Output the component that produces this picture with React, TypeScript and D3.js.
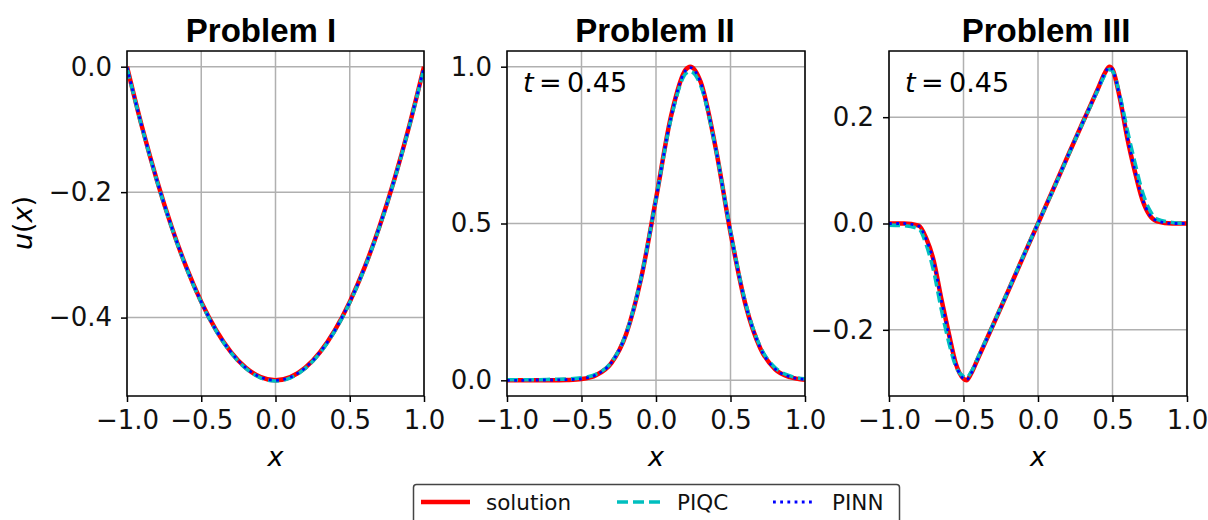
import React, { useEffect, useRef } from 'react'
import * as d3 from 'd3'

// canvas
const width = 1208,
      height = 520,
      plotTop = 51,
      plotBottom = 396
const tickFont = '"DejaVu Sans", sans-serif'
const titleFont = '"Liberation Sans", Arial, sans-serif'

// Problem I
const xI = [-1, -0.9, -0.8, -0.7, -0.6, -0.5, -0.4, -0.3, -0.2, -0.1, 0, 0.1, 0.2, 0.3, 0.4, 0.5, 0.6, 0.7, 0.8, 0.9, 1]
const solutionI = [0, -0.095, -0.18, -0.255, -0.32, -0.375, -0.42, -0.455, -0.48, -0.495, -0.5, -0.495, -0.48, -0.455, -0.42, -0.375, -0.32, -0.255, -0.18, -0.095, 0]
const piqcI = [-0.002, -0.096, -0.181, -0.256, -0.321, -0.376, -0.421, -0.456, -0.481, -0.496, -0.501, -0.496, -0.481, -0.456, -0.421, -0.376, -0.321, -0.256, -0.181, -0.096, -0.002]
const pinnI = [-0.001, -0.095, -0.18, -0.255, -0.32, -0.375, -0.42, -0.455, -0.48, -0.495, -0.5, -0.495, -0.48, -0.455, -0.42, -0.375, -0.32, -0.255, -0.18, -0.095, -0.001]

// Problem II
const xII = [-1, -0.9, -0.8, -0.7, -0.6, -0.5, -0.4, -0.3, -0.2, -0.1, 0, 0.1, 0.2, 0.23, 0.3, 0.4, 0.5, 0.6, 0.7, 0.8, 0.9, 1]
const solutionII = [0, 0, 0, 0, 0.001, 0.004, 0.017, 0.055, 0.148, 0.325, 0.579, 0.84, 0.991, 1.0, 0.951, 0.742, 0.471, 0.243, 0.102, 0.035, 0.01, 0.002]
const piqcII = [0.002, 0.002, 0.002, 0.003, 0.004, 0.008, 0.02, 0.057, 0.15, 0.327, 0.578, 0.833, 0.978, 0.985, 0.94, 0.74, 0.475, 0.248, 0.107, 0.04, 0.014, 0.005]
const pinnII = [0, 0, 0.001, 0.001, 0.002, 0.005, 0.018, 0.056, 0.149, 0.325, 0.578, 0.838, 0.989, 0.997, 0.949, 0.742, 0.472, 0.244, 0.103, 0.036, 0.011, 0.003]

// Problem III
const xIII = [-1, -0.9, -0.8, -0.75, -0.7, -0.65, -0.6, -0.55, -0.5, -0.48, -0.45, -0.4, -0.3, -0.2, -0.1, 0, 0.1, 0.2, 0.3, 0.4, 0.45, 0.48, 0.5, 0.55, 0.6, 0.65, 0.7, 0.75, 0.8, 0.9, 1]
const solutionIII = [0, 0, -0.004, -0.028, -0.07, -0.14, -0.205, -0.265, -0.292, -0.295, -0.283, -0.252, -0.19, -0.127, -0.063, 0, 0.063, 0.127, 0.19, 0.252, 0.284, 0.295, 0.29, 0.235, 0.16, 0.098, 0.045, 0.015, 0.004, 0, 0]
const piqcIII = [-0.003, -0.004, -0.01, -0.04, -0.09, -0.16, -0.222, -0.27, -0.288, -0.29, -0.28, -0.25, -0.189, -0.126, -0.062, 0, 0.062, 0.126, 0.189, 0.25, 0.28, 0.29, 0.287, 0.24, 0.175, 0.115, 0.06, 0.025, 0.008, 0.002, 0]
const pinnIII = [0, 0, -0.005, -0.03, -0.072, -0.142, -0.207, -0.266, -0.292, -0.294, -0.283, -0.252, -0.19, -0.127, -0.063, 0, 0.063, 0.127, 0.19, 0.252, 0.284, 0.294, 0.289, 0.236, 0.162, 0.1, 0.047, 0.016, 0.005, 0, 0]

const xTicks = [-1, -0.5, 0, 0.5, 1]
const titles = ['Problem I', 'Problem II', 'Problem III']
const legendLabels = ['solution', 'PIQC', 'PINN']

// series styles: solution / PIQC / PINN
const seriesStyle = [
  { color: '#ff0000', width: 4.5, dash: null },
  { color: '#00bfbf', width: 3.6, dash: '11,5' },
  { color: '#0000ff', width: 2.8, dash: '2.8,4.4' }
]

const panels = [
  { title: titles[0], left: 127, right: 424, titleX: 261, yDomain: [-0.525, 0.025], yTicks: [-0.4, -0.2, 0], x: xI, series: [solutionI, piqcI, pinnI], note: false },
  { title: titles[1], left: 507, right: 805, titleX: 655, yDomain: [-0.05, 1.05], yTicks: [0, 0.5, 1], x: xII, series: [solutionII, piqcII, pinnII], note: true },
  { title: titles[2], left: 889, right: 1187, titleX: 1046, yDomain: [-0.3245, 0.3245], yTicks: [-0.2, 0, 0.2], x: xIII, series: [solutionIII, piqcIII, pinnIII], note: true }
]

export default function App () {
  const ref = useRef<SVGSVGElement>(null)

  useEffect(() => {
    const svg = d3.select(ref.current)
    svg.selectAll('*').remove()
    svg.append('rect').attr('width', width).attr('height', height).attr('fill', '#fff')

    panels.forEach((p, pi) => {
      const xScale = d3.scaleLinear().domain([-1, 1]).range([p.left, p.right])
      const yScale = d3.scaleLinear().domain(p.yDomain).range([plotBottom, plotTop])
      const g = svg.append('g')

      // grid
      g.append('g').selectAll('line.gx')
        .data(xTicks).enter()
        .append('line')
        .attr('x1', d => xScale(d)).attr('x2', d => xScale(d))
        .attr('y1', plotTop).attr('y2', plotBottom)
        .attr('stroke', '#b0b0b0').attr('stroke-width', 1.5)
      g.append('g').selectAll('line.gy')
        .data(p.yTicks).enter()
        .append('line')
        .attr('x1', p.left).attr('x2', p.right)
        .attr('y1', d => yScale(d)).attr('y2', d => yScale(d))
        .attr('stroke', '#b0b0b0').attr('stroke-width', 1.5)

      // curves, clipped to the axes box
      const clipId = `clip${pi}`
      svg.append('clipPath').attr('id', clipId)
        .append('rect')
        .attr('x', p.left).attr('y', plotTop)
        .attr('width', p.right - p.left).attr('height', plotBottom - plotTop)

      const line = d3.line<number>()
        .x((d, i) => xScale(p.x[i]))
        .y(d => yScale(d))
        .curve(d3.curveMonotoneX)

      const lines = g.append('g').attr('clip-path', `url(#${clipId})`)
      p.series.forEach((values, si) => {
        const s = seriesStyle[si]
        lines.append('path')
          .attr('d', line(values))
          .attr('fill', 'none')
          .attr('stroke', s.color)
          .attr('stroke-width', s.width)
          .attr('stroke-dasharray', s.dash)
      })

      // frame
      g.append('rect')
        .attr('x', p.left).attr('y', plotTop)
        .attr('width', p.right - p.left).attr('height', plotBottom - plotTop)
        .attr('fill', 'none').attr('stroke', '#000').attr('stroke-width', 1.5)

      // axes
      const xAxis = d3.axisBottom(xScale).tickValues(xTicks).tickFormat(d3.format('.1f')).tickSize(6).tickPadding(9)
      const yAxis = d3.axisLeft(yScale).tickValues(p.yTicks).tickFormat(d3.format('.1f')).tickSize(6).tickPadding(9)

      const ax = g.append('g').attr('transform', `translate(0, ${plotBottom})`).call(xAxis)
      const ay = g.append('g').attr('transform', `translate(${p.left}, 0)`).call(yAxis)
      ;[ax, ay].forEach(a => {
        a.select('.domain').remove()
        a.selectAll('line').attr('stroke', '#000').attr('stroke-width', 1.5)
        a.selectAll('text').attr('font-family', tickFont).attr('font-size', 26).attr('fill', '#111')
      })

      // title
      g.append('text')
        .attr('x', p.titleX).attr('y', 42)
        .attr('text-anchor', 'middle')
        .attr('font-family', titleFont).attr('font-weight', 'bold').attr('font-size', 33)
        .text(p.title)

      // x label
      g.append('text')
        .attr('x', (p.left + p.right) / 2).attr('y', 466)
        .attr('text-anchor', 'middle')
        .attr('font-family', tickFont).attr('font-style', 'italic').attr('font-size', 27)
        .text('x')

      // time note
      if (p.note) {
        const t = g.append('text')
          .attr('x', p.left + 16).attr('y', 92)
          .attr('font-family', tickFont).attr('font-size', 27)
        t.append('tspan').attr('font-style', 'italic').text('t')
        t.append('tspan').text('\u2009=\u20090.45')
      }
    })

    // y label
    const yl = svg.append('text')
      .attr('transform', 'translate(32, 223) rotate(-90)')
      .attr('text-anchor', 'middle')
      .attr('font-family', tickFont).attr('font-size', 27)
    yl.append('tspan').attr('font-style', 'italic').text('u')
    yl.append('tspan').text('(')
    yl.append('tspan').attr('font-style', 'italic').text('x')
    yl.append('tspan').text(')')

    // legend
    const legend = svg.append('g')
    legend.append('rect')
      .attr('x', 413.5).attr('y', 484.5)
      .attr('width', 486).attr('height', 50)
      .attr('rx', 3)
      .attr('fill', '#fff').attr('stroke', '#444').attr('stroke-width', 1.5)

    const legendX = [421, 617, 773]
    const legendW = [49, 44, 43]
    legendLabels.forEach((label, i) => {
      const s = seriesStyle[i]
      legend.append('line')
        .attr('x1', legendX[i]).attr('x2', legendX[i] + legendW[i])
        .attr('y1', 502).attr('y2', 502)
        .attr('stroke', s.color).attr('stroke-width', s.width)
        .attr('stroke-dasharray', s.dash)
      legend.append('text')
        .attr('x', legendX[i] + legendW[i] + 16).attr('y', 510)
        .attr('font-family', tickFont).attr('font-size', 21.5)
        .attr('fill', '#111')
        .text(label)
    })
  }, [])

  return (
    <svg
      ref={ref}
      width={width}
      height={height}
      style={{ position: 'absolute', left: 0, top: 0, display: 'block' }}
    />
  )
}
